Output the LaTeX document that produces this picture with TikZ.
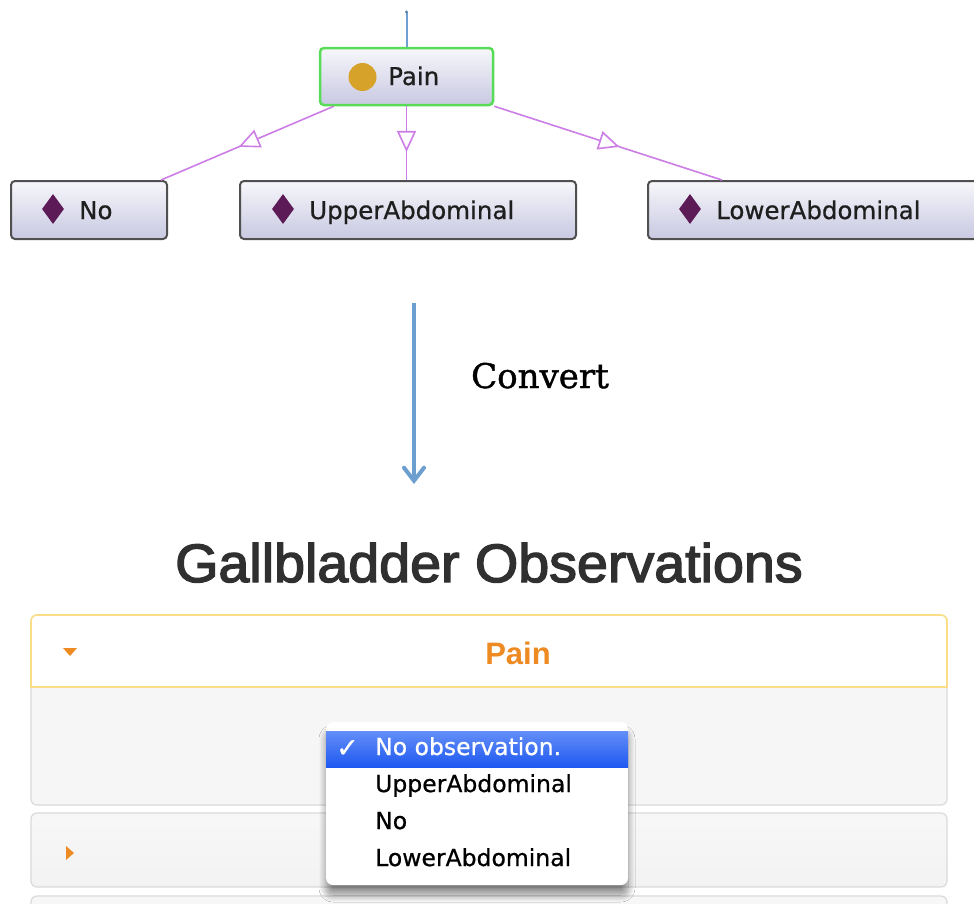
\documentclass[tikz,border=0pt]{standalone}
\usepackage{fontspec}
\usetikzlibrary{arrows.meta,decorations.markings,shapes.geometric,shadows.blur}

\newfontfamily\uifont[FakeBold=0.7]{DejaVu Sans}
\newfontfamily\webfont{Liberation Sans}
\newfontfamily\webhead[FakeBold=2.6,FakeStretch=1.03]{Liberation Sans}
\newfontfamily\convfont[FakeBold=1.2]{DejaVu Serif}

\definecolor{boxtop}{RGB}{247,247,251}
\definecolor{boxbot}{RGB}{200,200,226}
\definecolor{boxedge}{RGB}{80,80,80}
\definecolor{paingreen}{RGB}{88,220,88}
\definecolor{dotgold}{RGB}{214,162,42}
\definecolor{gem}{RGB}{92,26,86}
\definecolor{isapurple}{RGB}{205,125,230}
\definecolor{feedblue}{RGB}{110,160,210}
\definecolor{convblue}{RGB}{108,158,208}
\definecolor{inktext}{RGB}{30,30,30}
\definecolor{titlegray}{RGB}{48,48,48}
\definecolor{hdryellow}{RGB}{250,222,135}
\definecolor{hdrorange}{RGB}{238,138,34}
\definecolor{panelfill}{RGB}{246,246,246}
\definecolor{paneledge}{RGB}{218,218,218}
\definecolor{seltop}{RGB}{100,142,248}
\definecolor{selbot}{RGB}{30,88,240}

\tikzset{
  classbox/.style={draw=boxedge, line width=2pt, rounded corners=4pt,
    top color=boxtop, bottom color=boxbot, minimum height=58pt, inner sep=0pt},
  boxlabel/.style={anchor=base west, inner sep=0pt, text=inktext,
    font=\uifont\fontsize{24.5}{28}\selectfont},
  gemmark/.style={diamond, fill=gem, minimum width=22pt, minimum height=30pt, inner sep=0pt},
  isa/.style={draw=isapurple, line width=1.6pt},
  midtri/.style={postaction={decorate}, decoration={markings,
    mark=at position #1 with {\arrow{Triangle[length=21pt,width=19pt,fill=white]}}}},
  panelbox/.style={draw=paneledge, line width=1.2pt, rounded corners=6pt},
  menuitem/.style={anchor=base west, inner sep=0pt, text=black,
    font=\uifont\fontsize{23.5}{28}\selectfont},
}

\begin{document}
\begin{tikzpicture}[x=1pt,y=-1pt]
\useasboundingbox (0,0) rectangle (974,903);
\fill[white] (0,0) rectangle (974,903);

% ---------- class hierarchy ----------
\node[classbox, draw=paingreen, line width=2.5pt, minimum width=173pt, minimum height=57pt]
  (pain) at (406.5,76.5) {};
\node[circle, fill=dotgold, minimum size=28pt, inner sep=0pt] (paindot) at (362.5,77) {};
\node[boxlabel] (paintxt) at (388,85) {Pain};

\node[classbox, minimum width=156pt] (no) at (89,210) {};
\node[gemmark] (nogem) at (53,209) {};
\node[boxlabel] (notxt) at (79,219) {No};

\node[classbox, minimum width=336pt] (upper) at (408,210) {};
\node[gemmark] (uppergem) at (283,209) {};
\node[boxlabel] (uppertxt) at (309,219) {UpperAbdominal};

\node[classbox, minimum width=340pt] (lower) at (818,210) {};
\node[gemmark] (lowergem) at (690,209) {};
\node[boxlabel] (lowertxt) at (716,219) {LowerAbdominal};

% incoming edge from above
\coordinate (feed) at (406.5,12);
\draw[draw=feedblue, line width=2pt] (feed) -- (pain.north);
\fill[feedblue!80!black] (feed) circle (1.6pt);

% subclass edges with hollow triangles
\draw[isa, midtri=0.55] ([xshift=15pt]pain.south west) -- ([xshift=-7pt]no.north east);
\draw[isa, midtri=0.62] (pain.south) -- (pain.south |- upper.north);
\draw[isa, midtri=0.55] (pain.south east) -- ([xshift=75pt]lower.north west);

% ---------- conversion arrow ----------
\coordinate (convA) at (414,303);
\coordinate (convB) at (414,484);
\draw[draw=convblue, line width=4pt,
  -{Straight Barb[length=13pt,width=20pt,line cap=round]}] (convA) -- (convB);
\node[anchor=base west, inner sep=0pt, text=black,
  font=\convfont\fontsize{34}{40}\selectfont] (convtxt) at (471,388) {Convert};

% ---------- generated form ----------
\node[anchor=base, inner sep=0pt, text=titlegray,
  font=\webhead\fontsize{54}{60}\selectfont] (title) at (489,582) {Gallbladder Observations};

% panel 1: expanded
\draw[panelbox, fill=panelfill] (31,615) rectangle (947,805);
\draw[draw=hdryellow, line width=1.6pt, fill=white]
  (31,687) [rounded corners=6pt] -- (31,615) -- (947,615) [sharp corners] -- (947,687) -- cycle;
\fill[hdrorange] (63,648) -- (77,648) -- (70,656) -- cycle;
\node[anchor=base, inner sep=0pt, text=hdrorange,
  font=\webfont\bfseries\fontsize{31}{36}\selectfont] (hdrtxt) at (518,664) {Pain};

% panel 2: collapsed
\draw[panelbox, top color=white!97!black, bottom color=white!95!black] (31,813) rectangle (947,887);
\fill[hdrorange] (66,846) -- (74,853) -- (66,860) -- cycle;

% panel 3: partly visible
\draw[panelbox, fill=white!97!black] (31,896) rectangle (947,940);

% drop-down menu
\node[fill=white, rounded corners=7pt, minimum width=302pt, minimum height=163pt, inner sep=0pt,
  blur shadow={shadow xshift=0pt, shadow yshift=-10pt, shadow blur radius=7pt,
    shadow blur steps=12, shadow opacity=45}]
  (menu) at (477,803.5) {};
\node[top color=seltop, bottom color=selbot, minimum width=302pt, minimum height=36pt, inner sep=0pt]
  (sel) at (477,749) {};
\node[anchor=base west, inner sep=0pt, text=white,
  font=\uifont\fontsize{27}{30}\selectfont] (selcheck) at (336,757) {✓};
\node[menuitem, text=white] (item0) at (375,755) {No observation.};
\node[menuitem] (item1) at (375,792) {UpperAbdominal};
\node[menuitem] (item2) at (375,829) {No};
\node[menuitem] (item3) at (375,866) {LowerAbdominal};
\end{tikzpicture}
\end{document}
